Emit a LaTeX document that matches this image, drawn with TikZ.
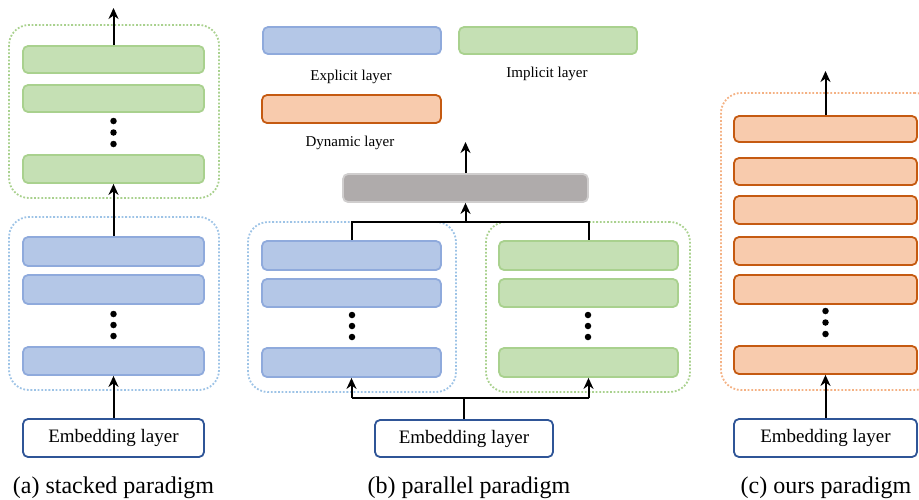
\documentclass[tikz,border=0pt]{standalone}
\usepackage{fontspec}
\setmainfont{Liberation Serif}
\usetikzlibrary{arrows.meta}
\definecolor{bfill}{HTML}{B4C7E7}
\definecolor{bdraw}{HTML}{8FAADC}
\definecolor{gfill}{HTML}{C5E0B4}
\definecolor{gdraw}{HTML}{A9D18E}
\definecolor{ofill}{HTML}{F8CBAD}
\definecolor{odraw}{HTML}{C55A11}
\definecolor{grfill}{HTML}{AFABAB}
\definecolor{grdraw}{HTML}{D0CECE}
\definecolor{bcont}{HTML}{9DC3E6}
\definecolor{gcont}{HTML}{A9D18E}
\definecolor{ocont}{HTML}{F4B183}
\definecolor{edraw}{HTML}{2F5597}
\tikzset{
  layerbox/.style={rounded corners=5pt, line width=1.8pt, inner sep=0pt},
  bluebox/.style={layerbox, fill=bfill, draw=bdraw},
  greenbox/.style={layerbox, fill=gfill, draw=gdraw},
  orangebox/.style={layerbox, fill=ofill, draw=odraw},
  graybox/.style={layerbox, fill=grfill, draw=grdraw},
  embbox/.style={layerbox, fill=white, draw=edraw, font=\fontsize{19}{22}\selectfont},
  contbox/.style={rounded corners=20pt, line width=1.8pt, dash pattern=on 1.8pt off 1.8pt, inner sep=0pt},
  arr/.style={line width=2pt, -{Stealth[length=11pt,width=10pt,inset=3.5pt]}},
  ln/.style={line width=2pt},
  lbl/.style={font=\fontsize{15}{18}\selectfont, inner sep=0pt},
  captext/.style={font=\fontsize{24}{28}\selectfont, inner sep=0pt},
  dotn/.style={circle, fill=black, inner sep=0pt, minimum size=6.5pt}
}
% \lbox{name}{style}{x1}{y1}{x2}{y2}{text}
\newcommand\lbox[7]{\node[#2, minimum width={(#5-#3)*1pt}, minimum height={(#6-#4)*1pt}] (#1) at ({(#3+#5)/2},{(#4+#6)/2}) {#7};}
\newcommand\vdotsat[4]{\node[dotn] (#1a) at (#2,#3) {}; \node[dotn] (#1b) at (#2,{(#3+#4)/2}) {}; \node[dotn] (#1c) at (#2,#4) {};}
\begin{document}
\begin{tikzpicture}[x=1pt,y=-1pt]
\useasboundingbox (0,0) rectangle (919,499);
% ---------- panel (a)
\lbox{gA}{contbox, draw=gcont}{9}{25}{219}{198}{}
\lbox{bA}{contbox, draw=bcont}{9}{217}{219}{390}{}
\lbox{ga1}{greenbox}{23}{46}{204}{73}{}
\lbox{ga2}{greenbox}{23}{85}{204}{112}{}
\lbox{ga3}{greenbox}{23}{155}{204}{183}{}
\vdotsat{gda}{113.5}{121}{144}
\lbox{ba1}{bluebox}{23}{237}{204}{266}{}
\lbox{ba2}{bluebox}{23}{275}{204}{304}{}
\lbox{ba3}{bluebox}{23}{347}{204}{375}{}
\vdotsat{bda}{113.5}{314}{336}
\lbox{embA}{embbox}{23}{419}{204}{457}{Embedding layer}
\coordinate (topA) at (113.5,8);
\draw[arr] (embA.north) -- (ba3.south);
\draw[arr] (ba1.north) -- (ga3.south);
\draw[arr] (ga1.north) -- (topA);
\node[captext] (capA) at (113.5,488) {(a) stacked paradigm};
% ---------- panel (b)
\lbox{legB}{bluebox}{263}{27}{441}{54}{}
\lbox{legG}{greenbox}{459}{27}{637}{54}{}
\lbox{legO}{orangebox}{262}{95}{441}{123}{}
\node[lbl] (txtB) at (351,77) {Explicit layer};
\node[lbl] (txtG) at (547,74) {Implicit layer};
\node[lbl] (txtO) at (350,143) {Dynamic layer};
\lbox{gray}{graybox}{343}{174}{588}{202}{}
\lbox{bB}{contbox, draw=bcont}{248}{222}{456}{392}{}
\lbox{gB}{contbox, draw=gcont}{486}{222}{690}{392}{}
\lbox{pb1}{bluebox}{262}{241}{441}{270}{}
\lbox{pb2}{bluebox}{262}{279}{441}{307}{}
\lbox{pb3}{bluebox}{262}{348}{441}{377}{}
\vdotsat{bdb}{352}{315}{337}
\lbox{pg1}{greenbox}{499}{241}{678}{270}{}
\lbox{pg2}{greenbox}{499}{279}{678}{307}{}
\lbox{pg3}{greenbox}{499}{348}{678}{377}{}
\vdotsat{gdb}{588}{315}{337}
\lbox{embB}{embbox}{375}{420}{553}{457}{Embedding layer}
\coordinate (jt) at (465.5,222);
\coordinate (jb) at (464,398);
\coordinate (topB) at (465.5,142);
\draw[ln] (pb1.north) |- (jt) -| (pg1.north);
\draw[arr] (jt) -- (gray.south);
\draw[arr] (gray.north) -- (topB);
\draw[ln] (embB.north) -- (jb);
\draw[ln] (pb3.south |- jb) -- (pg3.south |- jb);
\draw[arr] (pb3.south |- jb) -- (pb3.south);
\draw[arr] (pg3.south |- jb) -- (pg3.south);
\node[captext] (capB) at (469,488) {(b) parallel paradigm};
% ---------- panel (c)
\lbox{oC}{contbox, draw=ocont}{721}{93}{935}{390}{}
\lbox{o1}{orangebox}{734}{116}{917}{142}{}
\lbox{o2}{orangebox}{734}{158}{917}{185}{}
\lbox{o3}{orangebox}{734}{196}{917}{224}{}
\lbox{o4}{orangebox}{734}{237}{917}{265}{}
\lbox{o5}{orangebox}{734}{275}{917}{304}{}
\lbox{o6}{orangebox}{734}{346}{917}{374}{}
\vdotsat{odc}{825.5}{311}{334}
\lbox{embC}{embbox}{734}{419}{917}{457}{Embedding layer}
\coordinate (topC) at (825.5,71);
\draw[arr] (embC.north) -- (o6.south);
\draw[arr] (o1.north) -- (topC);
\node[captext] (capC) at (826,488) {(c) ours paradigm};
\end{tikzpicture}
\end{document}
